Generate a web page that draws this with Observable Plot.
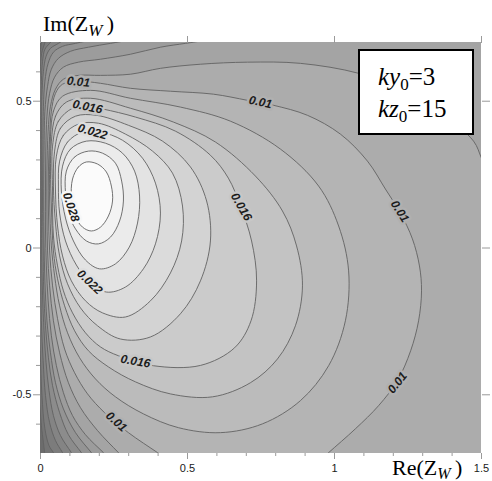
<!DOCTYPE html>
<html>
<head>
<meta charset="utf-8">
<script src="https://cdn.jsdelivr.net/npm/d3@7"></script>
<script src="https://cdn.jsdelivr.net/npm/@observablehq/plot@0.6"></script>
<style>
html,body{margin:0;padding:0;background:#fff;}
#chart{width:492px;height:481px;}
</style>
</head>
<body>
<div id="chart"></div>
<script>
// parameters shown in the legend box
const ky0 = 3;
const kz0 = 15;

// axes
const xDomain = [0, 1.5];
const yDomain = [-0.7, 0.7];
const xTicks = [0, 0.5, 1, 1.5];
const xTickLabels = ["0", "0.5", "1", "1.5"];
const yTicks = [-0.5, 0, 0.5];
const yTickLabels = ["-0.5", "0", "0.5"];
const minorTicksX = [0.1,0.2,0.3,0.4,0.6,0.7,0.8,0.9,1.1,1.2,1.3,1.4];
const minorTicksY = [-0.6,-0.4,-0.3,-0.2,-0.1,0.1,0.2,0.3,0.4,0.6];

// contour lines: [Re(Zw), Im(Zw)]
// closed loops around the maximum
const c028 = [[0.109,0.235],[0.129,0.276],[0.156,0.293],[0.194,0.286],[0.224,0.259],[0.241,0.211],[0.245,0.160],[0.231,0.109],[0.204,0.071],[0.173,0.058],[0.143,0.071],[0.116,0.112],[0.105,0.170]];
const c026 = [[0.088,0.262],[0.116,0.310],[0.163,0.330],[0.211,0.323],[0.255,0.289],[0.276,0.228],[0.282,0.160],[0.269,0.092],[0.238,0.037],[0.197,0.014],[0.156,0.024],[0.119,0.065],[0.095,0.119],[0.085,0.187]];
const c024 = [[0.075,0.279],[0.102,0.337],[0.156,0.364],[0.221,0.357],[0.279,0.323],[0.320,0.262],[0.337,0.177],[0.330,0.085],[0.302,0.003],[0.255,-0.054],[0.201,-0.071],[0.153,-0.041],[0.112,0.024],[0.085,0.102],[0.071,0.194]];
const c022 = [[0.065,0.296],[0.092,0.361],[0.143,0.395],[0.204,0.395],[0.279,0.367],[0.347,0.306],[0.391,0.221],[0.408,0.119],[0.391,0.014],[0.350,-0.071],[0.289,-0.133],[0.224,-0.150],[0.167,-0.116],[0.122,-0.058],[0.085,0.024],[0.065,0.119],[0.061,0.211]];
const c020 = [[0.054,0.313],[0.078,0.384],[0.129,0.422],[0.197,0.425],[0.289,0.388],[0.381,0.330],[0.449,0.255],[0.483,0.143],[0.480,0.024],[0.442,-0.085],[0.374,-0.180],[0.289,-0.235],[0.211,-0.221],[0.153,-0.180],[0.105,-0.112],[0.075,-0.027],[0.058,0.075],[0.051,0.194]];
const c018 = [[0.048,0.330],[0.068,0.408],[0.119,0.449],[0.190,0.452],[0.299,0.418],[0.415,0.364],[0.510,0.276],[0.565,0.160],[0.578,0.024],[0.544,-0.112],[0.476,-0.224],[0.374,-0.303],[0.272,-0.310],[0.194,-0.265],[0.136,-0.204],[0.092,-0.122],[0.065,-0.027],[0.051,0.085],[0.044,0.211]];
const c016 = [[0.041,0.347],[0.061,0.432],[0.109,0.476],[0.160,0.483],[0.214,0.473],[0.323,0.446],[0.459,0.398],[0.578,0.316],[0.639,0.238],[0.680,0.143],[0.718,0.024],[0.735,-0.112],[0.716,-0.248],[0.660,-0.340],[0.544,-0.400],[0.384,-0.401],[0.265,-0.367],[0.204,-0.337],[0.153,-0.289],[0.109,-0.221],[0.078,-0.146],[0.058,-0.061],[0.044,0.041],[0.041,0.194]];
const c014 = [[0.037,0.364],[0.051,0.449],[0.088,0.497],[0.170,0.510],[0.306,0.476],[0.452,0.429],[0.595,0.361],[0.731,0.245],[0.823,0.126],[0.871,0.007],[0.891,-0.129],[0.867,-0.265],[0.806,-0.378],[0.714,-0.459],[0.585,-0.507],[0.442,-0.497],[0.323,-0.456],[0.231,-0.405],[0.163,-0.350],[0.116,-0.282],[0.082,-0.197],[0.058,-0.105],[0.044,-0.010],[0.037,0.143],[0.034,0.262]];
const c012 = [[0.034,0.381],[0.044,0.466],[0.075,0.517],[0.170,0.537],[0.306,0.510],[0.476,0.480],[0.646,0.432],[0.816,0.337],[0.946,0.211],[1.014,0.075],[1.048,-0.078],[1.037,-0.248],[0.980,-0.401],[0.884,-0.520],[0.755,-0.599],[0.612,-0.629],[0.469,-0.612],[0.350,-0.565],[0.255,-0.507],[0.187,-0.446],[0.133,-0.374],[0.092,-0.289],[0.065,-0.197],[0.048,-0.095],[0.037,0.007],[0.031,0.160],[0.031,0.279]];
// open contours (they leave the frame)
const c010 = [[0.398,-0.697],[0.299,-0.629],[0.218,-0.561],[0.160,-0.497],[0.116,-0.425],[0.082,-0.344],[0.058,-0.241],[0.041,-0.129],[0.031,-0.010],[0.027,0.126],[0.027,0.262],[0.031,0.381],[0.037,0.466],[0.051,0.527],[0.075,0.558],[0.129,0.568],[0.204,0.561],[0.306,0.544],[0.442,0.534],[0.588,0.524],[0.704,0.503],[0.793,0.486],[0.908,0.452],[1.020,0.388],[1.112,0.296],[1.173,0.201],[1.224,0.119],[1.265,0.031],[1.289,-0.061],[1.296,-0.146],[1.286,-0.248],[1.259,-0.350],[1.214,-0.452],[1.150,-0.537],[1.071,-0.616],[0.980,-0.697]];
const c008 = [[1.5,0.306],[1.473,0.364],[1.361,0.459],[1.224,0.541],[1.082,0.595],[0.884,0.629],[0.704,0.633],[0.544,0.626],[0.408,0.612],[0.306,0.592],[0.204,0.588],[0.129,0.588],[0.078,0.575],[0.051,0.541],[0.034,0.483],[0.026,0.398],[0.022,0.262],[0.022,0.126],[0.024,-0.010],[0.031,-0.129],[0.044,-0.248],[0.065,-0.357],[0.095,-0.459],[0.136,-0.544],[0.194,-0.622],[0.265,-0.697]];
const c006 = [[0.493,0.697],[0.408,0.684],[0.306,0.660],[0.204,0.643],[0.129,0.633],[0.078,0.616],[0.048,0.582],[0.031,0.527],[0.022,0.449],[0.018,0.330],[0.017,0.194],[0.017,0.058],[0.020,-0.061],[0.026,-0.180],[0.037,-0.299],[0.054,-0.401],[0.078,-0.493],[0.109,-0.571],[0.153,-0.636],[0.214,-0.697]];
const c004 = [[0.238,0.697],[0.163,0.684],[0.102,0.670],[0.061,0.646],[0.037,0.609],[0.024,0.551],[0.015,0.466],[0.012,0.330],[0.011,0.160],[0.012,0.024],[0.015,-0.112],[0.022,-0.248],[0.034,-0.357],[0.051,-0.459],[0.078,-0.548],[0.119,-0.629],[0.173,-0.697]];
const c002 = [[0.119,0.697],[0.075,0.687],[0.044,0.667],[0.026,0.629],[0.015,0.568],[0.010,0.483],[0.008,0.330],[0.007,0.160],[0.009,-0.010],[0.011,-0.146],[0.017,-0.265],[0.027,-0.374],[0.041,-0.469],[0.065,-0.561],[0.095,-0.636],[0.139,-0.697]];
const c000 = [[0.061,0.697],[0.034,0.680],[0.019,0.653],[0.010,0.602],[0.005,0.517],[0.004,0.364],[0.004,0.160],[0.004,-0.010],[0.007,-0.163],[0.012,-0.282],[0.019,-0.391],[0.029,-0.486],[0.044,-0.571],[0.068,-0.639],[0.105,-0.697]];
const cm002 = [[0.031,0.697],[0.015,0.677],[0.007,0.636],[0.003,0.568],[0.001,0.432],[0.001,0.160],[0.001,-0.078],[0.003,-0.248],[0.009,-0.384],[0.017,-0.503],[0.031,-0.595],[0.051,-0.656],[0.075,-0.697]];
const cm004 = [[0.014,0.697],[0.004,0.663],[-0.001,0.602],[-0.005,0.500],[-0.007,0.160],[-0.005,-0.180],[-0.001,-0.350],[0.005,-0.503],[0.015,-0.616],[0.029,-0.673],[0.044,-0.697]];
const cm006 = [[0.002,0.697],[-0.002,0.653],[-0.010,0.500],[-0.014,0.160],[-0.010,-0.350],[-0.003,-0.520],[0.003,-0.605],[0.010,-0.663],[0.014,-0.697]];

const closedContours = [
  {level: 0.012, pts: c012}, {level: 0.014, pts: c014}, {level: 0.016, pts: c016},
  {level: 0.018, pts: c018}, {level: 0.020, pts: c020}, {level: 0.022, pts: c022},
  {level: 0.024, pts: c024}, {level: 0.026, pts: c026}, {level: 0.028, pts: c028}
];
// close: which outer corners complete the "higher than level" side
const openContours = [
  {level: -0.006, pts: cm006, close: "right"},
  {level: -0.004, pts: cm004, close: "right"},
  {level: -0.002, pts: cm002, close: "right"},
  {level: 0.000, pts: c000, close: "right"},
  {level: 0.002, pts: c002, close: "right"},
  {level: 0.004, pts: c004, close: "right"},
  {level: 0.006, pts: c006, close: "right"},
  {level: 0.008, pts: c008, close: "bottomright"},
  {level: 0.010, pts: c010, close: "none"}
];
const baseLevel = -0.008;

// contour labels
const contourLabels = [
  {text: "0.01",  x: 0.129, y: 0.566, angle: 6,   level: 0.010},
  {text: "0.016", x: 0.160, y: 0.481, angle: 12,  level: 0.016},
  {text: "0.022", x: 0.177, y: 0.396, angle: 16,  level: 0.022},
  {text: "0.028", x: 0.104, y: 0.139, angle: 72,  level: 0.028},
  {text: "0.01",  x: 0.748, y: 0.497, angle: 12,  level: 0.010},
  {text: "0.016", x: 0.683, y: 0.140, angle: 60,  level: 0.016},
  {text: "0.01",  x: 1.222, y: 0.125, angle: 58,  level: 0.010},
  {text: "0.022", x: 0.167, y: -0.116, angle: 44, level: 0.022},
  {text: "0.016", x: 0.323, y: -0.386, angle: 10, level: 0.016},
  {text: "0.01",  x: 0.258, y: -0.592, angle: 42, level: 0.010},
  {text: "0.01",  x: 1.214, y: -0.459, angle: -52, level: 0.010}
];

// ---- geometry helpers (outer closure lies outside the frame and is clipped) ----
const X_OUT = xDomain[1] + 0.3, Y_LO = yDomain[0] - 0.3, Y_HI = yDomain[1] + 0.3;
function extendEnds(pts) {
  const ext = (a, b) => {
    const dx = a[0] - b[0], dy = a[1] - b[1], n = Math.hypot(dx, dy) || 1;
    return [a[0] + dx / n * 0.06, a[1] + dy / n * 0.06];
  };
  const n = pts.length;
  return [ext(pts[0], pts[1]), ...pts, ext(pts[n - 1], pts[n - 2])];
}
const regions = [{level: baseLevel, kind: "base",
  poly: [[xDomain[0] - 0.3, Y_LO], [X_OUT, Y_LO], [X_OUT, Y_HI], [xDomain[0] - 0.3, Y_HI]]}];
const strokes = [];
for (const c of openContours) {
  const line = extendEnds(c.pts);
  let poly = line.slice();
  if (c.close === "right") poly = poly.concat([[X_OUT, Y_LO], [X_OUT, Y_HI]]);
  if (c.close === "bottomright") poly = poly.concat([[X_OUT, Y_LO]]);
  regions.push({level: c.level, kind: "open", poly});
  strokes.push({closed: false, line});
}
for (const c of closedContours) {
  regions.push({level: c.level, kind: "closed", poly: c.pts});
  strokes.push({closed: true, line: c.pts});
}
const curveFor = {base: "linear-closed", open: "catmull-rom", closed: "catmull-rom-closed"};

const tickColor = "#9a9a9a";
const sans = "'Liberation Sans', Arial, Helvetica, sans-serif";
const serif = "'Liberation Serif', 'Times New Roman', Times, serif";

const plot = Plot.plot({
  width: 492,
  height: 481,
  marginLeft: 40,
  marginRight: 11,
  marginTop: 42,
  marginBottom: 28,
  x: {domain: xDomain},
  y: {domain: yDomain},
  color: {type: "linear", domain: [baseLevel, 0.028], range: ["#6c6c6c", "#fbfbfb"]},
  style: {fontFamily: sans, fontSize: "11px", background: "#fff", overflow: "visible"},
  marks: [
    ...regions.map(r => Plot.line(r.poly, {
      x: d => d[0], y: d => d[1], fill: () => r.level, stroke: "none",
      curve: curveFor[r.kind], clip: true
    })),
    ...strokes.map(s => Plot.line(s.line, {
      x: d => d[0], y: d => d[1], stroke: "#626262", strokeWidth: 0.9,
      curve: s.closed ? "catmull-rom-closed" : "catmull-rom", clip: true
    })),
    Plot.text(contourLabels, {
      x: "x", y: "y", text: "text", rotate: "angle",
      fontSize: 12, fontWeight: "bold", fontStyle: "italic", fontFamily: sans,
      fill: "#1c1c1c", stroke: d => d.level - 0.001, strokeWidth: 5, clip: true
    }),
    Plot.axisX(minorTicksX, {anchor: "bottom", tickSize: 3, tickFormat: () => "", stroke: tickColor, label: null}),
    Plot.axisX(xTicks, {anchor: "bottom", tickSize: 6, tickPadding: 5, stroke: tickColor, fill: "#1a1a1a",
      tickFormat: d => xTickLabels[xTicks.indexOf(d)], fontSize: 11, label: null}),
    Plot.axisX(xTicks, {anchor: "top", tickSize: 7, tickFormat: () => "", stroke: tickColor, label: null}),
    Plot.axisY(minorTicksY, {anchor: "left", tickSize: 4, tickFormat: () => "", stroke: tickColor, label: null}),
    Plot.axisY(yTicks, {anchor: "left", tickSize: 7, tickPadding: 2, stroke: tickColor, fill: "#1a1a1a",
      tickFormat: d => yTickLabels[yTicks.indexOf(d)], fontSize: 11, label: null}),
    Plot.axisY(yTicks, {anchor: "right", tickSize: 8, tickFormat: () => "", stroke: tickColor, label: null})
  ]
});

document.getElementById("chart").appendChild(plot);

// axis titles and the parameter box
const svg = d3.select(plot);
const yTitle = svg.append("text").attr("x", 43).attr("y", 31).attr("text-anchor", "start")
  .attr("font-family", serif).attr("font-size", 22).attr("fill", "#000");
yTitle.append("tspan").text("Im(Z");
yTitle.append("tspan").attr("font-style", "italic").attr("font-size", 17).attr("dy", 5).text("W");
yTitle.append("tspan").attr("dy", -5).text("\u2009)");

const xTitle = svg.append("text").attr("x", 392).attr("y", 475).attr("text-anchor", "start")
  .attr("font-family", serif).attr("font-size", 22).attr("fill", "#000");
xTitle.append("tspan").text("Re(Z");
xTitle.append("tspan").attr("font-style", "italic").attr("font-size", 16).attr("dy", 4).text("W");
xTitle.append("tspan").attr("dy", -4).text("\u2009)");

const box = svg.append("g");
box.append("rect").attr("x", 359).attr("y", 50).attr("width", 114).attr("height", 84)
  .attr("fill", "#fff").attr("stroke", "#000").attr("stroke-width", 2);
const t1 = box.append("text").attr("x", 378).attr("y", 85).attr("text-anchor", "start")
  .attr("font-family", serif).attr("font-size", 25).attr("fill", "#000");
t1.append("tspan").attr("font-style", "italic").text("ky");
t1.append("tspan").attr("font-size", 17).attr("dy", 5).text("0");
t1.append("tspan").attr("dy", -5).text("=" + ky0);
const t2 = box.append("text").attr("x", 378).attr("y", 117).attr("text-anchor", "start")
  .attr("font-family", serif).attr("font-size", 25).attr("fill", "#000");
t2.append("tspan").attr("font-style", "italic").text("kz");
t2.append("tspan").attr("font-size", 17).attr("dy", 5).text("0");
t2.append("tspan").attr("dy", -5).text("=" + kz0);
</script>
</body>
</html>
